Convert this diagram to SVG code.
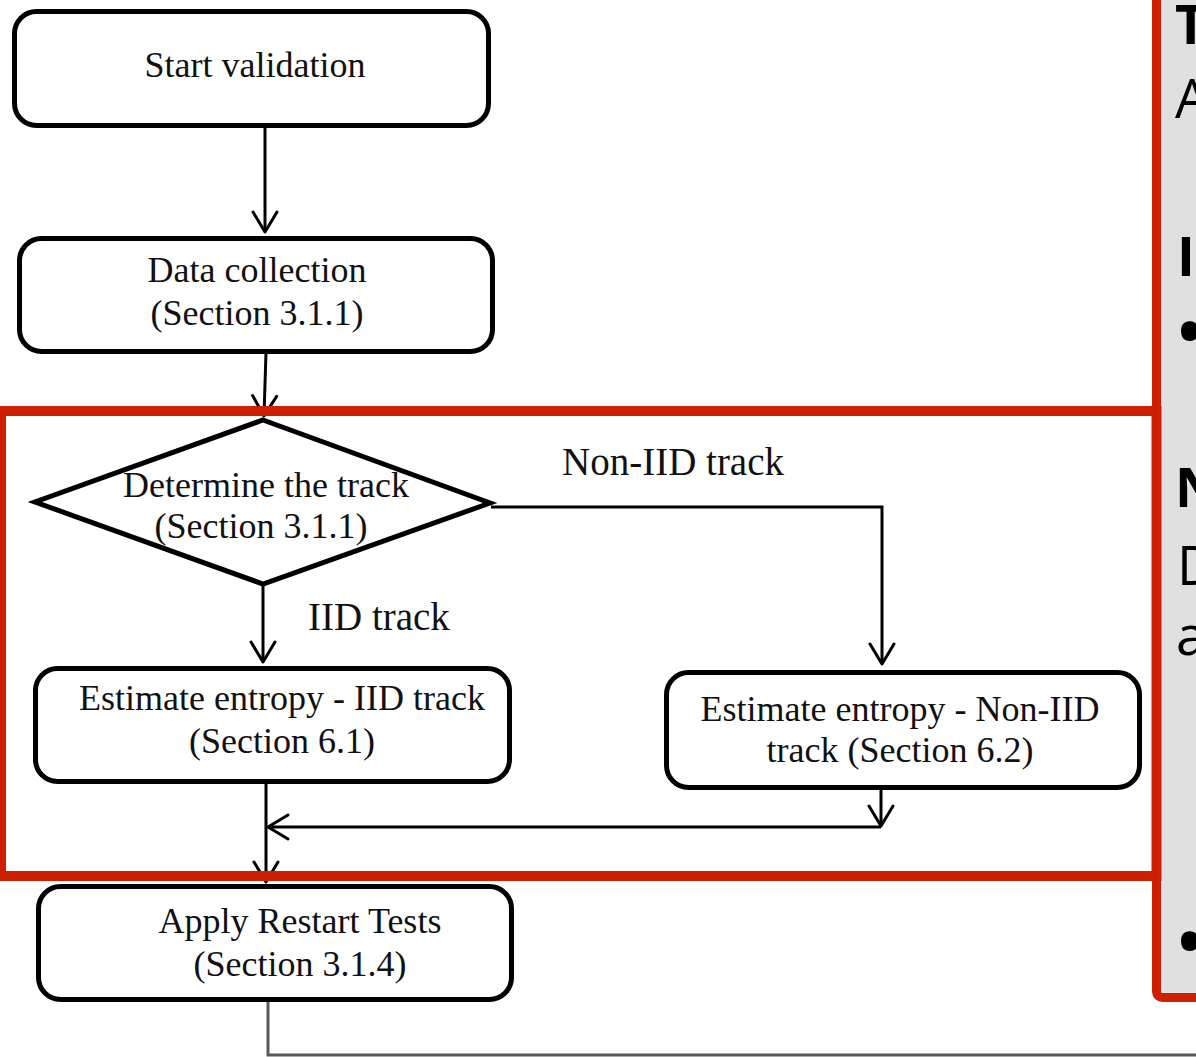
<svg xmlns="http://www.w3.org/2000/svg" width="1196" height="1057" viewBox="0 0 1196 1057">
  <style>
    .box { fill: #ffffff; stroke: #000000; stroke-width: 5; }
    .lbl { font-family: "Liberation Serif", "Times New Roman", serif; font-size: 36px; fill: #111111; text-anchor: middle; }
    .edge-lbl { font-family: "Liberation Serif", "Times New Roman", serif; font-size: 39px; fill: #111111; }
    .wire { fill: none; stroke: #000000; stroke-width: 3; }
    .side { font-family: "Open Sans", "Noto Sans", sans-serif; font-size: 54px; fill: #000000; }
    .side-b { font-weight: bold; }
    .bullet { font-family: "Open Sans", "Noto Sans", sans-serif; font-size: 84px; fill: #000000; }
  </style>
  <defs>
    <marker id="vhead" markerUnits="userSpaceOnUse" markerWidth="30" markerHeight="30" viewBox="-2 -2 26 30" refX="20" refY="12" orient="auto">
      <path d="M0,0 L20,12 L0,24" fill="none" stroke="#000000" stroke-width="3" stroke-linecap="round" stroke-linejoin="round"/>
    </marker>
  </defs>

  <rect x="0" y="0" width="1196" height="1057" fill="#ffffff"/>

  <!-- side panel -->
  <g id="side-panel">
    <rect x="1156.5" y="-20" width="80" height="1017.5" rx="6" fill="#e0e0e0" stroke="#cd2000" stroke-width="9"/>
    <text class="side side-b" x="1175" y="44">T</text>
    <text class="side" x="1175" y="118">A</text>
    <text class="side side-b" x="1177" y="276">I</text>
    <text class="bullet" x="1174" y="362">•</text>
    <text class="side side-b" x="1175" y="507">N</text>
    <text class="side" x="1177" y="585">D</text>
    <text class="side" x="1176" y="655">a</text>
    <text class="bullet" x="1174" y="972">•</text>
  </g>

  <!-- connectors -->
  <g id="connectors">
    <path class="wire" d="M265,126 L265,232" marker-end="url(#vhead)"/>
    <path class="wire" d="M266,352 L264,416" marker-end="url(#vhead)"/>
    <path class="wire" d="M263,585 L263,662" marker-end="url(#vhead)"/>
    <path class="wire" d="M491,507 L882,507 L882,664" marker-end="url(#vhead)"/>
    <path class="wire" d="M881,788 L881,826"  marker-end="url(#vhead)"/>
    <path class="wire" d="M881,827 L268,827" marker-end="url(#vhead)"/>
    <path class="wire" d="M266,782 L266,882" marker-end="url(#vhead)"/>
    <path d="M268,1000 L268,1055 L1200,1055" fill="none" stroke="#595959" stroke-width="3"/>
  </g>

  <!-- nodes -->
  <g id="start">
    <rect class="box" x="14.5" y="11.5" width="474" height="114" rx="22"/>
    <text class="lbl" x="255" y="77">Start validation</text>
  </g>

  <g id="data-collection">
    <rect class="box" x="19.5" y="238.5" width="473" height="113" rx="22"/>
    <text class="lbl" x="257" y="282">Data collection</text>
    <text class="lbl" x="257" y="325">(Section 3.1.1)</text>
  </g>

  <g id="determine-track">
    <polygon class="box" points="263,420 490,503 263,584 35,502" stroke-width="4.5"/>
    <text class="lbl" x="266" y="497">Determine the track</text>
    <text class="lbl" x="261" y="538">(Section 3.1.1)</text>
  </g>

  <g id="edge-labels">
    <text class="edge-lbl" x="562" y="475">Non-IID track</text>
    <text class="edge-lbl" x="308" y="630">IID track</text>
  </g>

  <g id="iid-estimate">
    <rect class="box" x="35.5" y="668.5" width="474" height="113" rx="22"/>
    <text class="lbl" x="282" y="710">Estimate entropy - IID track</text>
    <text class="lbl" x="282" y="753">(Section 6.1)</text>
  </g>

  <g id="noniid-estimate">
    <rect class="box" x="666.5" y="672.5" width="473" height="115" rx="22"/>
    <text class="lbl" x="900" y="721">Estimate entropy - Non-IID</text>
    <text class="lbl" x="900" y="762">track (Section 6.2)</text>
  </g>

  <g id="restart-tests">
    <rect class="box" x="38.5" y="886.5" width="473" height="113" rx="22"/>
    <text class="lbl" x="300" y="933">Apply Restart Tests</text>
    <text class="lbl" x="300" y="976">(Section 3.1.4)</text>
  </g>

  <!-- highlight frame -->
  <rect id="highlight" x="1" y="411" width="1155.5" height="465" fill="none" stroke="#cd2000" stroke-width="10"/>
</svg>
